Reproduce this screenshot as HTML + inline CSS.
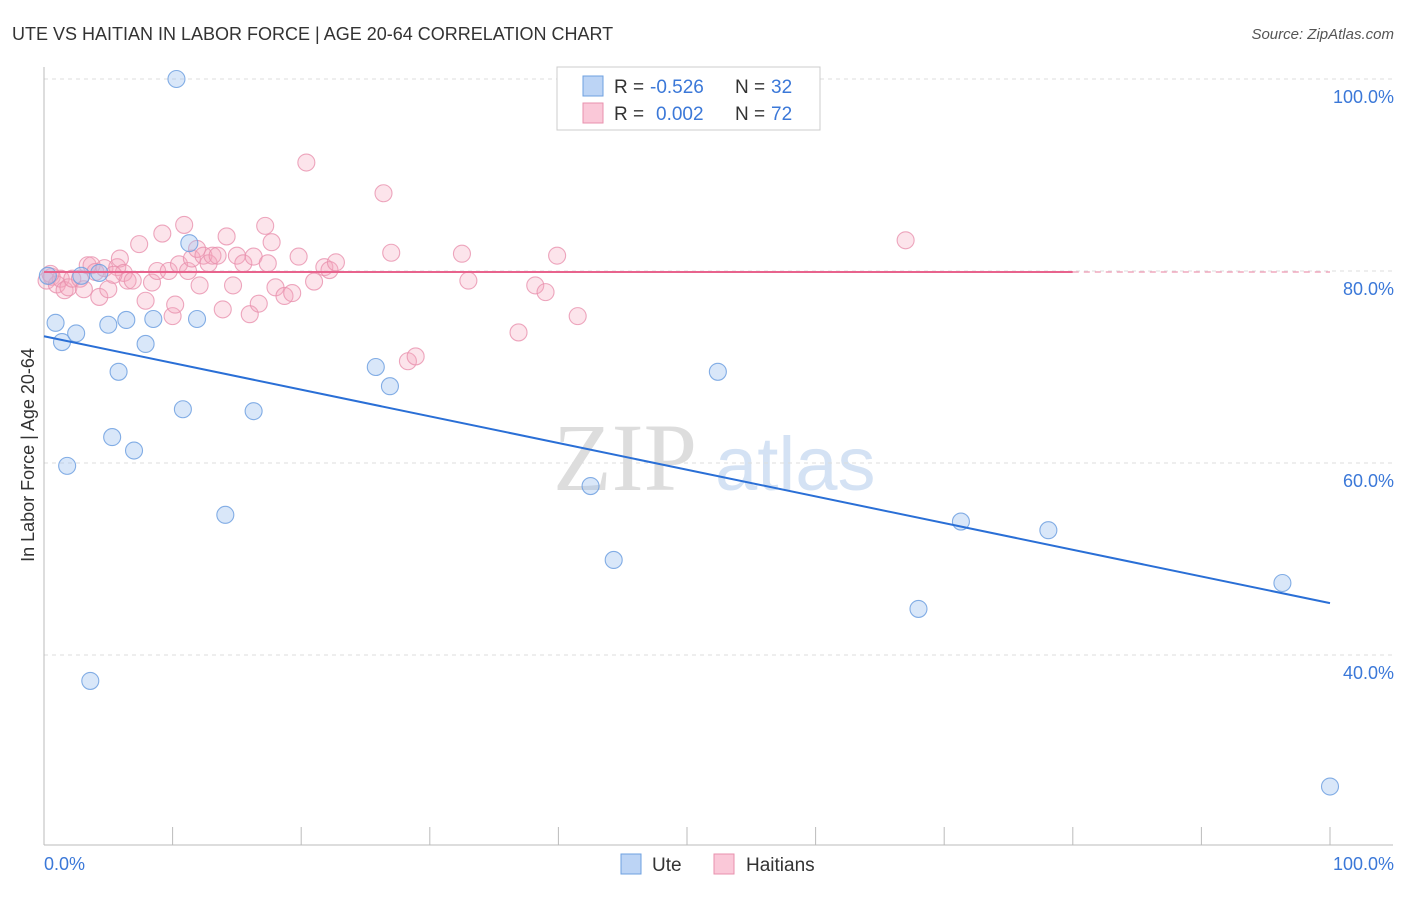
<!DOCTYPE html>
<html><head><meta charset="utf-8"><style>
body{margin:0;background:#fff;font-family:"Liberation Sans",sans-serif}
</style></head><body>
<svg id="chart" width="1406" height="892" xmlns="http://www.w3.org/2000/svg">
<text x="12" y="40" font-size="18" fill="#333">UTE VS HAITIAN IN LABOR FORCE | AGE 20-64 CORRELATION CHART</text>
<text x="1394" y="39" font-size="15" fill="#555" font-style="italic" text-anchor="end">Source: ZipAtlas.com</text>
<g>
<text x="553" y="490" font-size="96" fill="#ddd" font-family="Liberation Serif,serif">ZIP</text>
<text x="715" y="490" font-size="76" fill="#d4e2f4">atlas</text>
</g>
<g id="grid"></g>
<g id="marks"></g>
<text x="-455" y="34" transform="rotate(-90)" font-size="18" fill="#333" text-anchor="middle">In Labor Force | Age 20-64</text>
<text x="44" y="870" font-size="18" fill="#3b78d8">0.0%</text>
<text x="1394" y="870" font-size="18" fill="#3b78d8" text-anchor="end">100.0%</text>
<g>
<rect x="557" y="67" width="263" height="63" fill="#fff" stroke="#ccc"/>
<rect x="583" y="76" width="20" height="20" fill="#bcd4f5" stroke="#6ea0e0"/>
<rect x="583" y="103" width="20" height="20" fill="#fac8d8" stroke="#e891ae"/>
<text x="614" y="93" font-size="19" fill="#333">R =</text>
<text x="650" y="93" font-size="19" fill="#3b78d8">-0.526</text>
<text x="735" y="93" font-size="19" fill="#333">N =</text>
<text x="771" y="93" font-size="19" fill="#3b78d8">32</text>
<text x="614" y="120" font-size="19" fill="#333">R =</text>
<text x="656" y="120" font-size="19" fill="#3b78d8">0.002</text>
<text x="735" y="120" font-size="19" fill="#333">N =</text>
<text x="771" y="120" font-size="19" fill="#3b78d8">72</text>
</g>
<g>
<rect x="621" y="854" width="20" height="20" fill="#bcd4f5" stroke="#6ea0e0"/>
<text x="652" y="871" font-size="19" fill="#333">Ute</text>
<rect x="714" y="854" width="20" height="20" fill="#fac8d8" stroke="#e891ae"/>
<text x="746" y="871" font-size="19" fill="#333">Haitians</text>
</g>
</svg>
<script>
const yTicks=[40,60,80,100];
const yTickLabels=["40.0%","60.0%","80.0%","100.0%"];
const xTicks=[10,20,30,40,50,60,70,80,90,100];
const uteX=[0.3,0.9,1.4,1.8,2.5,2.9,3.6,4.3,5.0,5.3,5.8,6.4,7.0,7.9,8.5,10.3,10.8,11.3,11.9,14.1,16.3,25.8,26.9,42.5,44.3,52.4,56.8,68.0,71.3,78.1,96.3,100];
const uteY=[79.5,74.6,72.6,59.7,73.5,79.5,37.3,79.8,74.4,62.7,69.5,74.9,61.3,72.4,75.0,100,65.6,82.9,75.0,54.6,65.4,70.0,68.0,57.6,49.9,69.5,99.9,44.8,53.9,53.0,47.5,26.3];
const haiX=[0.2,0.6,1.0,1.3,1.6,1.9,2.2,2.8,3.4,3.7,4.0,4.3,4.7,5.0,5.7,5.9,6.2,6.5,6.9,7.4,7.9,8.4,8.8,9.2,9.7,10.0,10.2,10.5,10.9,11.2,11.5,11.9,12.1,12.4,12.8,13.1,13.5,13.9,14.2,14.7,15.0,15.5,16.0,16.3,16.7,17.2,17.4,17.7,18.0,18.7,19.3,19.8,20.4,21.0,21.8,22.2,22.7,26.4,27.0,28.3,28.9,32.5,33.0,36.9,38.2,39.0,39.9,41.5,67.0,0.5,5.4,3.1];
const haiY=[79.0,79.4,78.6,79.2,78.0,78.3,79.2,79.2,80.6,80.6,79.9,77.3,80.3,78.1,80.4,81.3,79.8,79.0,79.0,82.8,76.9,78.8,80.0,83.9,80.0,75.3,76.5,80.7,84.8,80.0,81.3,82.3,78.5,81.6,80.8,81.6,81.6,76.0,83.6,78.5,81.6,80.8,75.5,81.5,76.6,84.7,80.8,83.0,78.3,77.4,77.7,81.5,91.3,78.9,80.4,80.1,80.9,88.1,81.9,70.6,71.1,81.8,79.0,73.6,78.5,77.8,81.6,75.3,83.2,79.7,79.6,78.1];
const uteTrend=[73.2,45.4];
const haiTrend=[79.9,79.9];
const NS='http://www.w3.org/2000/svg';
const X=v=>44+v*12.86, Y=v=>79+(100-v)*9.6;
function mk(tag,attrs,parent){const e=document.createElementNS(NS,tag);for(const k in attrs)e.setAttribute(k,attrs[k]);parent.appendChild(e);return e;}
const grid=document.getElementById('grid'),marks=document.getElementById('marks');
yTicks.forEach((t,i)=>{
 const l=mk('line',{x1:44,x2:1393,y1:Y(t),y2:Y(t),stroke:'#ddd','stroke-dasharray':'4,4'},grid);
 
 
 const tx=mk('text',{x:1394,y:Y(t)+24,'font-size':18,fill:'#3b78d8','text-anchor':'end'},grid);
 tx.textContent=yTickLabels[i];
 
 
});
const ax=mk('line',{x1:44,x2:1393,y1:845,y2:845,stroke:'#bbb'},grid);


const ay=mk('line',{x1:44,x2:44,y1:67,y2:845,stroke:'#bbb'},grid);


xTicks.forEach(t=>{
 const l=mk('line',{x1:X(t),x2:X(t),y1:827,y2:845,stroke:'#bbb'},grid);
 
 
});
haiX.forEach((x,i)=>{
 const c=mk('circle',{cx:X(x),cy:Y(haiY[i]),r:8.5,fill:'rgba(245,165,190,0.3)',stroke:'rgba(232,145,174,0.8)','stroke-width':1.1},marks);
 
 
});
uteX.forEach((x,i)=>{
 const c=mk('circle',{cx:X(x),cy:Y(uteY[i]),r:8.5,fill:'rgba(160,196,240,0.4)',stroke:'rgba(110,160,224,0.85)','stroke-width':1.1},marks);
 
 
});
const ut=mk('line',{x1:X(0),y1:Y(uteTrend[0]),x2:X(100),y2:Y(uteTrend[1]),stroke:'#2a6fd6','stroke-width':2},marks);


const h1=mk('line',{x1:X(0),y1:Y(haiTrend[0]),x2:X(80),y2:Y(haiTrend[0]+(haiTrend[1]-haiTrend[0])*0.8),stroke:'#e8638d','stroke-width':2},marks);


const h2=mk('line',{x1:X(80),y1:Y(haiTrend[0]+(haiTrend[1]-haiTrend[0])*0.8),x2:X(100),y2:Y(haiTrend[1]),stroke:'#f0a8be','stroke-width':1.5,'stroke-dasharray':'6,5'},marks);


</script>
</body></html>
